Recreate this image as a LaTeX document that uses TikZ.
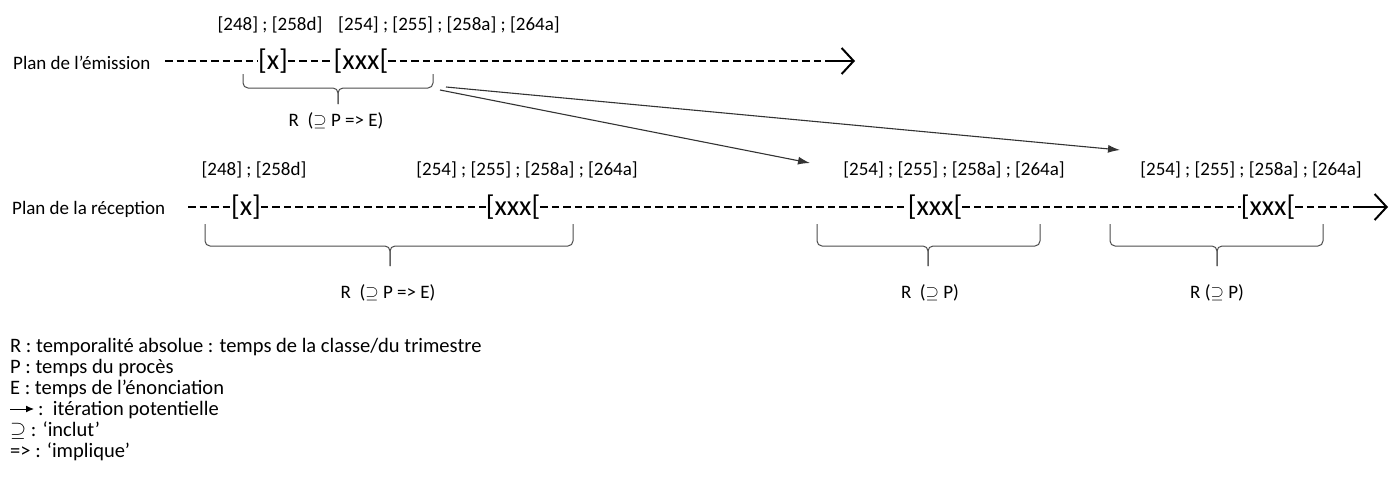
\documentclass[tikz,border=0pt]{standalone}
\usepackage{fontspec}
\setmainfont{Carlito}
\usetikzlibrary{arrows.meta}
\newcommand{\incl}{\ensuremath{\supseteq}}
\newcommand{\drawbrace}[6]{% L C R top h bot
  \draw[brace] (#1,#4) -- (#1,#5-5) arc[start angle=180,end angle=90,radius=5] -- (#2-5,#5) arc[start angle=-90,end angle=0,radius=5] -- (#2,#6);
  \draw[brace] (#3,#4) -- (#3,#5-5) arc[start angle=0,end angle=90,radius=5] -- (#2+5,#5) arc[start angle=-90,end angle=-180,radius=5] -- (#2,#6);
}
\begin{document}
\begin{tikzpicture}[x=1pt,y=-1pt,
  lbl/.style={font=\fontsize{19}{21}\selectfont, inner sep=0pt, text=black},
  big/.style={font=\fontsize{28.5}{30}\selectfont, inner sep=0pt, outer sep=0pt},
  axis/.style={line width=2pt, dash pattern=on 7.5pt off 4pt, black},
  axisend/.style={line width=2pt, -{Straight Barb[length=12pt,width=26pt,line width=2pt]}},
  conn/.style={line width=1.1pt, draw=black!80, -{Latex[length=12pt,width=8pt]}},
  brace/.style={line width=1pt, draw=black!70},
  legend/.style={font=\fontsize{20.5}{21}\selectfont, anchor=base west, inner sep=0pt}]
\useasboundingbox (0,0) rectangle (1390,490);

% Row 1: emission
\node[lbl, anchor=west] (etitle) at (13,63) {Plan de l’émission};
\coordinate (estart) at (165,61);
\node[big] (ex) at (273,61) {[x]};
\node[big] (exxx) at (361,61) {[xxx[};
\coordinate (edend) at (826,61);
\coordinate (etip) at (855,61);
\draw[axis] (estart) -- (ex.west);
\draw[axis] (ex.east) -- (exxx.west);
\draw[axis] (exxx.east) -- (edend);
\draw[axisend] (edend) -- (etip);
\node[lbl] (el1) at (270,25) {[248] ; [258d]};
\node[lbl, anchor=west] (el2) at (338,25) {[254] ; [255] ; [258a] ; [264a]};
\drawbrace{243}{338}{433}{74}{88}{104}
\node[lbl] (er) at (336,121) {R~ (\incl{} P => E)};

% Row 2: reception
\node[lbl, anchor=west] (rtitle) at (12,209) {Plan de la réception};
\coordinate (rstart) at (188,207);
\node[big] (rx) at (246,207) {[x]};
\node[big] (rxxxa) at (513,207) {[xxx[};
\node[big] (rxxxb) at (935,207) {[xxx[};
\node[big] (rxxxc) at (1268,207) {[xxx[};
\coordinate (rdend) at (1358,207);
\coordinate (rtip) at (1388,207);
\draw[axis] (rstart) -- (rx.west);
\draw[axis] (rx.east) -- (rxxxa.west);
\draw[axis] (rxxxa.east) -- (rxxxb.west);
\draw[axis] (rxxxb.east) -- (rxxxc.west);
\draw[axis] (rxxxc.east) -- (rdend);
\draw[axisend] (rdend) -- (rtip);
\node[lbl] (rl1) at (254,170) {[248] ; [258d]};
\node[lbl] (rl2) at (527,170) {[254] ; [255] ; [258a] ; [264a]};
\node[lbl] (rl3) at (954,170) {[254] ; [255] ; [258a] ; [264a]};
\node[lbl] (rl4) at (1251,170) {[254] ; [255] ; [258a] ; [264a]};
\drawbrace{205}{390}{573}{224}{246}{266}
\drawbrace{817}{928}{1040}{224}{246}{266}
\drawbrace{1110}{1217}{1323}{224}{246}{266}
\node[lbl] (rr1) at (388,293) {R~ (\incl{} P => E)};
\node[lbl] (rr2) at (930,293) {R~ (\incl{} P)};
\node[lbl] (rr3) at (1217,293) {R (\incl{} P)};

% iteration arrows
\coordinate (aas) at (440,90);
\coordinate (aae) at (810,163);
\coordinate (abs) at (446,87);
\coordinate (abe) at (1120,150);
\draw[conn] (aas) -- (aae);
\draw[conn] (abs) -- (abe);

% legend
\node[legend] (lga) at (10,352) {R : temporalité absolue : temps de la classe/du trimestre};
\node[legend] (lgb) at (10,373) {P : temps du procès};
\node[legend] (lgc) at (10,394) {E : temps de l’énonciation};
\coordinate (lgs) at (10,409);
\coordinate (lge) at (34,409);
\draw[-{Latex[length=8pt,width=7pt]}, line width=1pt] (lgs) -- (lge);
\node[legend] (lgd) at (38,415) {:\ \ itération potentielle};
\node[legend] (lgf) at (10,436) {\incl{} : ‘inclut’};
\node[legend] (lgg) at (10,457) {=> : ‘implique’};
\end{tikzpicture}
\end{document}
